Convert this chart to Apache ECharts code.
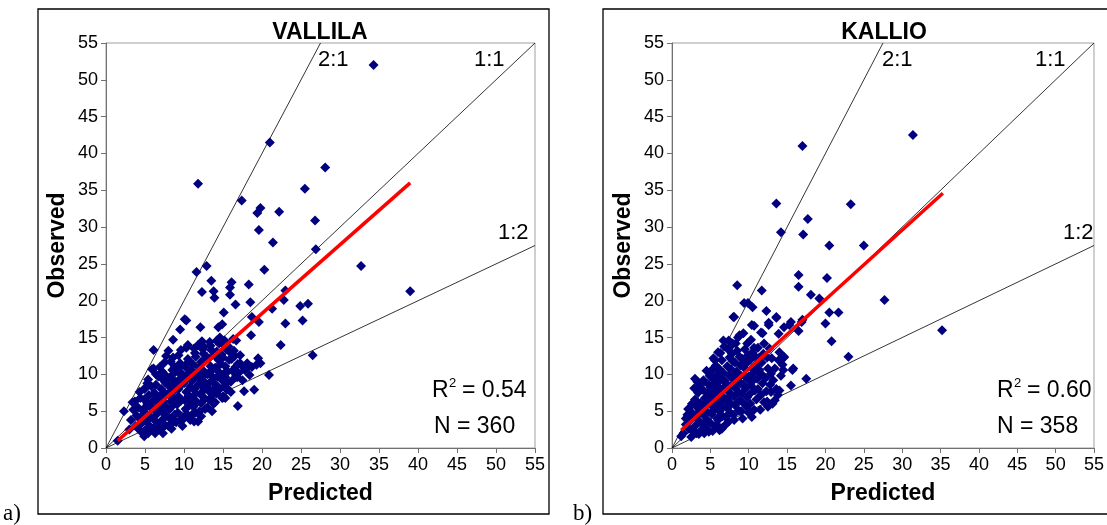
<!DOCTYPE html>
<html>
<head>
<meta charset="utf-8">
<title>Observed vs Predicted</title>
<script src="https://cdn.jsdelivr.net/npm/echarts/dist/echarts.min.js"></script>
<style>
  html, body { margin: 0; padding: 0; background: #fff; }
  #main { width: 1107px; height: 525px; }
</style>
</head>
<body>
<div id="main"></div>
<script>
// axis ticks
var axisMin = 0, axisMax = 55, axisStep = 5;

// reference lines (2:1, 1:1, 1:2)
var line21 = [[0, 0], [27.5, 55]];
var line11 = [[0, 0], [55, 55]];
var line12 = [[0, 0], [55, 27.5]];

// regression lines
var fitVallila = [[1.5, 1.0], [39.0, 36.0]];
var fitKallio = [[1.2, 2.4], [35.3, 34.6]];

// VALLILA: scattered points
var vallilaOuter = [
  [34.3, 52.0], [21.0, 41.5], [28.1, 38.1], [11.8, 35.9], [25.5, 35.2], [17.4, 33.6],
  [19.8, 32.6], [19.4, 31.9], [22.2, 32.1], [26.8, 30.9], [19.6, 29.6], [21.4, 27.9],
  [26.9, 27.0], [32.7, 24.7], [12.9, 24.7], [11.6, 23.9], [20.3, 24.2], [39.0, 21.3],
  [13.5, 22.7], [12.3, 21.2], [13.8, 21.3], [13.9, 20.4], [18.3, 22.2], [15.9, 21.8],
  [16.1, 22.5], [15.9, 20.8], [16.6, 19.5], [18.5, 19.8], [23.0, 21.4], [22.8, 20.1],
  [24.9, 19.3], [25.9, 19.6], [21.3, 18.9], [15.1, 18.4], [25.2, 17.3], [23.0, 16.9],
  [19.6, 17.1], [18.7, 17.8], [10.1, 17.5], [10.3, 17.3], [9.5, 16.1], [12.1, 16.4],
  [14.9, 16.8], [14.4, 16.4], [18.6, 15.3], [15.1, 14.0], [8.6, 14.7], [16.7, 14.6],
  [22.4, 14.0], [6.1, 13.3], [26.5, 12.6], [20.9, 9.9], [19.0, 7.9], [17.7, 7.7],
  [16.9, 5.7], [2.3, 5.0], [4.9, 1.6], [1.5, 1.0], [5.9, 10.7], [5.3, 8.8],
  [4.9, 8.0], [3.7, 6.3], [19.3, 11.3], [19.8, 11.5], [18.7, 11.0], [16.9, 11.4],
  [18.0, 11.3], [18.4, 9.9], [16.6, 9.6], [15.3, 9.6], [15.5, 7.9], [15.1, 6.9],
  [19.5, 12.2], [18.1, 11.5], [17.2, 11.5], [16.7, 9.8], [15.3, 6.8], [15.5, 8.1]
];

// VALLILA: dense cluster
var vallilaCluster = [
  [3.0, 2.5], [3.2, 3.8], [3.5, 5.2], [3.8, 3.0], [3.4, 6.2],
  [4.0, 2.8], [4.2, 4.1], [4.1, 5.5], [4.4, 6.8], [4.6, 3.4], [4.3, 7.6], [4.8, 5.0],
  [5.0, 2.4], [5.2, 3.6], [5.1, 4.7], [5.3, 6.0], [5.5, 7.2], [5.0, 8.1], [5.6, 3.0], [5.4, 9.3], [5.8, 5.4], [5.7, 4.2],
  [6.0, 2.6], [6.1, 3.9], [6.3, 5.1], [6.0, 6.4], [6.2, 7.5], [6.4, 8.6], [6.1, 10.8], [6.6, 3.2], [6.5, 4.6], [6.8, 6.0], [6.7, 9.7], [6.9, 7.0], [6.3, 2.0],
  [7.0, 2.5], [7.1, 3.7], [7.2, 4.9], [7.0, 5.8], [7.3, 6.9], [7.1, 8.0], [7.4, 9.2], [7.2, 10.4], [7.5, 11.6], [7.6, 3.1], [7.7, 4.3], [7.8, 5.5], [7.6, 7.4], [7.9, 8.6], [7.7, 12.5], [7.5, 10.0],
  [8.0, 3.0], [8.2, 4.0], [8.1, 5.2], [8.3, 6.3], [8.0, 7.3], [8.4, 8.4], [8.2, 9.5], [8.5, 10.6], [8.3, 11.7], [8.6, 12.3], [8.8, 4.5], [8.7, 6.8], [8.9, 9.0], [8.8, 11.0], [8.6, 3.5], [8.9, 7.9],
  [9.0, 3.5], [9.2, 4.8], [9.1, 5.9], [9.3, 7.0], [9.0, 8.2], [9.4, 9.3], [9.2, 10.4], [9.5, 11.5], [9.3, 12.6], [9.6, 6.4], [9.7, 8.7], [9.8, 10.0], [9.6, 13.3], [9.9, 4.2], [9.5, 3.8],
  [10.0, 4.0], [10.2, 5.3], [10.1, 6.5], [10.3, 7.6], [10.0, 8.8], [10.4, 9.9], [10.2, 11.0], [10.5, 12.1], [10.3, 13.6], [10.7, 5.8], [10.6, 7.1], [10.8, 8.3], [10.9, 10.5], [10.7, 11.8], [10.8, 3.8], [10.5, 14.0],
  [11.0, 4.5], [11.2, 5.6], [11.1, 6.8], [11.3, 7.9], [11.0, 9.1], [11.4, 10.2], [11.2, 11.3], [11.5, 12.4], [11.3, 13.5], [11.7, 6.2], [11.8, 8.6], [11.6, 9.7], [11.9, 11.0], [11.8, 14.0], [11.5, 4.8],
  [12.0, 5.0], [12.2, 6.1], [12.1, 7.3], [12.3, 8.4], [12.0, 9.5], [12.4, 10.6], [12.2, 11.7], [12.5, 12.8], [12.3, 14.5], [12.7, 6.7], [12.6, 9.0], [12.8, 10.1], [12.9, 12.2], [12.7, 5.3], [12.6, 13.7],
  [13.0, 5.5], [13.2, 6.6], [13.1, 7.8], [13.3, 8.9], [13.0, 10.0], [13.4, 11.1], [13.2, 12.2], [13.5, 13.3], [13.3, 14.4], [13.7, 7.2], [13.8, 9.5], [13.6, 10.6], [13.9, 12.6], [13.8, 6.0],
  [14.0, 6.2], [14.2, 7.4], [14.1, 8.6], [14.3, 9.7], [14.0, 10.9], [14.4, 12.0], [14.2, 13.1], [14.5, 14.2], [14.6, 8.0], [14.7, 11.4], [14.8, 12.7], [14.6, 15.0], [14.9, 6.8],
  [15.0, 7.0], [15.2, 8.4], [15.1, 9.8], [15.3, 11.1], [15.0, 12.3], [15.4, 13.4], [15.2, 14.6], [15.6, 10.4], [15.8, 12.0], [15.7, 13.8], [15.5, 8.9],
  [16.0, 9.0], [16.2, 10.5], [16.1, 12.1], [16.4, 13.2], [16.6, 11.0], [16.8, 9.6], [16.3, 14.8],
  [17.0, 10.2], [17.4, 11.2], [17.2, 12.6], [17.8, 10.6], [18.2, 11.0],
  [4.5, 2.2], [5.4, 2.0], [6.6, 5.4], [7.4, 6.3], [8.5, 5.7], [9.4, 6.6], [10.4, 4.6], [11.5, 7.4], [12.5, 7.8], [13.5, 9.8],
  [14.5, 10.3], [13.6, 5.0], [12.2, 4.3], [11.3, 3.6], [9.8, 3.0], [8.4, 2.6], [7.3, 2.0], [6.5, 6.9], [7.6, 8.9], [8.5, 9.9],
  [9.4, 10.9], [10.5, 11.6], [11.4, 12.9], [12.4, 13.4], [13.4, 13.9], [14.2, 14.6], [10.2, 9.3], [11.3, 9.6], [12.3, 10.1], [9.3, 8.0],
  [8.3, 7.7], [6.0, 5.5], [5.1, 5.6], [4.6, 4.3], [3.9, 4.4], [10.9, 6.2], [12.9, 8.3], [13.9, 8.1], [15.3, 10.3], [14.9, 9.2],
  [16.5, 12.5], [15.9, 13.0], [6.4, 10.0], [5.8, 8.4], [4.9, 6.6], [6.9, 11.0], [8.0, 13.2], [16.0, 7.6], [17.5, 9.2], [11.8, 3.6]
];

// KALLIO: scattered points
var kallioOuter = [
  [31.4, 42.5], [17.0, 41.0], [13.6, 33.2], [23.3, 33.1], [14.2, 29.3], [17.7, 31.1],
  [17.1, 29.0], [20.5, 27.5], [25.0, 27.5], [16.5, 23.5], [20.2, 23.1], [16.5, 21.9],
  [8.5, 22.1], [11.7, 21.4], [18.1, 20.8], [19.2, 20.3], [27.7, 20.1], [9.4, 19.7],
  [9.9, 19.7], [10.5, 19.1], [8.1, 17.8], [12.3, 18.6], [13.6, 17.7], [20.5, 18.4],
  [21.7, 18.4], [35.2, 16.0], [20.0, 16.9], [20.8, 14.5], [23.0, 12.4], [17.5, 9.4],
  [15.5, 8.5], [10.7, 16.6], [11.8, 15.6], [12.6, 16.7], [13.9, 15.5], [14.6, 16.4],
  [15.3, 16.7], [16.5, 15.9], [16.9, 17.1], [8.8, 15.3], [6.7, 14.6], [7.9, 14.2],
  [5.6, 11.9], [3.0, 9.4], [3.9, 8.9], [2.9, 8.1], [1.2, 1.6], [6.2, 2.4],
  [14.6, 12.3], [15.8, 10.8], [14.4, 11.3], [13.1, 6.0], [12.4, 6.3], [12.9, 7.6],
  [14.6, 12.4], [15.7, 10.6], [14.0, 13.0], [15.5, 17.1], [17.0, 17.4], [13.6, 17.8],
  [10.4, 16.7], [12.6, 17.0], [11.6, 15.7], [8.0, 17.8], [7.8, 14.0], [13.8, 7.2], [10.1, 4.9]
];

// KALLIO: dense cluster
var kallioCluster = [
  [1.5, 2.0], [1.8, 3.2], [2.0, 4.5], [2.2, 2.6], [2.4, 3.8], [2.1, 5.3], [2.6, 4.8], [2.8, 2.2],
  [3.0, 3.0], [3.1, 4.2], [3.3, 5.5], [3.0, 6.6], [3.4, 7.5], [3.2, 2.0], [3.6, 3.6], [3.5, 8.3], [3.8, 4.8], [3.7, 6.1], [3.9, 2.5],
  [4.0, 3.2], [4.2, 4.4], [4.1, 5.7], [4.3, 6.8], [4.0, 7.9], [4.4, 2.7], [4.6, 3.8], [4.5, 5.0], [4.7, 6.3], [4.6, 7.4], [4.8, 8.6], [4.9, 9.8], [4.5, 10.5], [4.8, 2.2],
  [5.0, 3.4], [5.2, 4.6], [5.1, 5.8], [5.3, 7.0], [5.0, 8.2], [5.4, 9.3], [5.2, 10.6], [5.6, 3.0], [5.5, 5.2], [5.7, 6.4], [5.8, 7.6], [5.6, 8.8], [5.9, 10.0], [5.7, 11.2], [5.9, 4.0],
  [6.0, 3.8], [6.2, 5.0], [6.1, 6.1], [6.3, 7.2], [6.0, 8.4], [6.4, 9.5], [6.2, 10.7], [6.5, 11.9], [6.3, 12.9], [6.6, 4.3], [6.7, 5.6], [6.8, 6.8], [6.6, 8.0], [6.9, 9.1], [6.7, 10.2], [6.8, 13.8], [6.5, 2.6],
  [7.0, 4.2], [7.2, 5.4], [7.1, 6.5], [7.3, 7.7], [7.0, 8.8], [7.4, 9.9], [7.2, 11.1], [7.5, 12.3], [7.3, 13.4], [7.6, 4.8], [7.7, 6.0], [7.8, 7.2], [7.6, 8.4], [7.9, 9.6], [7.7, 10.7], [7.8, 12.8], [7.4, 3.6],
  [8.0, 4.5], [8.2, 5.8], [8.1, 7.0], [8.3, 8.1], [8.0, 9.3], [8.4, 10.4], [8.2, 11.6], [8.5, 13.2], [8.3, 14.2], [8.7, 5.1], [8.8, 6.4], [8.6, 7.6], [8.9, 8.8], [8.7, 10.0], [8.9, 11.2], [8.6, 15.0],
  [9.0, 5.0], [9.2, 6.2], [9.1, 7.4], [9.3, 8.6], [9.0, 9.8], [9.4, 10.9], [9.2, 12.1], [9.5, 13.4], [9.7, 5.6], [9.8, 6.9], [9.6, 8.1], [9.9, 9.3], [9.7, 11.5], [9.8, 14.2],
  [10.0, 4.8], [10.2, 6.0], [10.1, 7.3], [10.3, 8.5], [10.0, 9.7], [10.4, 10.8], [10.2, 12.0], [10.5, 13.0], [10.7, 5.2], [10.8, 7.8], [10.6, 9.2], [10.9, 11.3], [10.7, 13.6],
  [11.0, 6.6], [11.2, 8.0], [11.1, 9.4], [11.4, 10.6], [11.3, 12.2], [11.6, 7.2], [11.8, 8.8], [11.7, 11.6], [11.9, 12.8],
  [12.0, 6.2], [12.3, 7.7], [12.2, 9.5], [12.5, 10.8], [12.4, 12.3], [12.8, 8.6], [12.9, 10.1], [12.7, 13.5],
  [13.2, 9.2], [13.4, 10.8], [13.6, 8.0], [13.9, 11.9], [14.2, 9.8], [14.5, 10.6],
  [2.5, 1.5], [3.5, 1.9], [4.2, 2.0], [5.3, 2.3], [6.0, 3.0], [7.0, 3.2], [8.1, 3.8], [9.2, 4.0], [10.4, 4.2], [11.5, 5.2],
  [12.5, 5.6], [13.4, 6.5], [14.0, 7.8], [13.0, 12.2], [12.0, 14.2], [11.2, 13.6], [10.3, 14.7], [9.3, 15.6], [7.4, 14.6], [6.0, 13.0],
  [5.4, 12.2], [4.1, 9.2], [3.3, 9.0], [2.6, 6.0], [1.8, 4.0], [5.9, 5.3], [6.4, 6.6], [7.5, 7.0], [8.4, 9.0], [9.5, 9.8],
  [10.6, 10.2], [11.6, 10.1], [7.9, 11.8], [8.8, 12.4], [9.9, 12.6], [10.8, 12.5], [6.2, 9.2], [5.3, 7.8], [4.4, 6.0], [3.6, 5.0]
];

var panelTitles = ['VALLILA', 'KALLIO'];
var panelR2 = ['0.54', '0.60'];
var panelN = ['360', '358'];

var chart = echarts.init(document.getElementById('main'));
var FONT = '"Liberation Sans", Arial, sans-serif';

function makeX(idx) {
  return {
    gridIndex: idx, type: 'value', min: axisMin, max: axisMax, interval: axisStep,
    name: 'Predicted', nameLocation: 'middle', nameGap: 34,
    nameTextStyle: { color: '#000', fontSize: 23, fontWeight: 'bold', fontFamily: FONT },
    axisLine: { show: true, onZero: false, lineStyle: { color: '#707070', width: 1 } },
    axisTick: { show: true, length: 5, lineStyle: { color: '#707070' } },
    axisLabel: { color: '#000', fontSize: 18, fontFamily: FONT, margin: 8 },
    splitLine: { show: false }
  };
}
function makeY(idx) {
  return {
    gridIndex: idx, type: 'value', min: axisMin, max: axisMax, interval: axisStep,
    name: 'Observed', nameLocation: 'middle', nameGap: 37,
    nameTextStyle: { color: '#000', fontSize: 23, fontWeight: 'bold', fontFamily: FONT },
    axisLine: { show: true, onZero: false, lineStyle: { color: '#707070', width: 1 } },
    axisTick: { show: true, length: 5, lineStyle: { color: '#707070' } },
    axisLabel: { color: '#000', fontSize: 18, fontFamily: FONT, margin: 8 },
    splitLine: { show: false }
  };
}
function refLine(idx, data) {
  return {
    type: 'line', xAxisIndex: idx, yAxisIndex: idx, data: data, symbol: 'none',
    lineStyle: { color: '#000', width: 0.8 }, silent: true, z: 1
  };
}
function pts(idx, data) {
  return {
    type: 'scatter', xAxisIndex: idx, yAxisIndex: idx, data: data,
    symbol: 'diamond', symbolSize: 10, itemStyle: { color: '#000080', opacity: 1 }, z: 2
  };
}
function fit(idx, data) {
  return {
    type: 'line', xAxisIndex: idx, yAxisIndex: idx, data: data, symbol: 'none',
    lineStyle: { color: '#ff0000', width: 3.5 }, z: 3
  };
}
function txt(x, y, s, size, extra) {
  var st = { text: s, x: 0, y: 0, fill: '#000', fontSize: size, fontFamily: FONT, verticalAlign: 'middle', align: 'left' };
  for (var k in extra) st[k] = extra[k];
  return { type: 'text', x: x, y: y, style: st, z: 10 };
}

var graphics = [
  { type: 'rect', shape: { x: 38, y: 9, width: 511, height: 505 }, style: { fill: null, stroke: '#000', lineWidth: 1.3 } },
  { type: 'rect', shape: { x: 603, y: 9, width: 511, height: 505 }, style: { fill: null, stroke: '#000', lineWidth: 1.3 } },
  txt(3, 514, 'a)', 23, { fontFamily: '"Liberation Serif", serif' }),
  txt(573, 514, 'b)', 23, { fontFamily: '"Liberation Serif", serif' }),
  txt(320, 33, panelTitles[0], 23, { fontWeight: 'bold', align: 'center' }),
  txt(884, 33, panelTitles[1], 23, { fontWeight: 'bold', align: 'center' }),
  txt(318, 60, '2:1', 22), txt(474, 60, '1:1', 22), txt(498, 233, '1:2', 22),
  txt(882, 60, '2:1', 22), txt(1035, 60, '1:1', 22), txt(1063, 233, '1:2', 22),
  txt(432, 391, 'R', 23), txt(449, 383, '2', 13), txt(462, 391, '= ' + panelR2[0], 23),
  txt(434, 427, 'N = ' + panelN[0], 23),
  txt(997, 391, 'R', 23), txt(1014, 383, '2', 13), txt(1027, 391, '= ' + panelR2[1], 23),
  txt(997, 427, 'N = ' + panelN[1], 23)
];

var option = {
  backgroundColor: '#fff',
  animation: false,
  grid: [
    { left: 106, right: 572, top: 43, bottom: 77, show: true, borderColor: '#a0a0a0', borderWidth: 1 },
    { left: 672, right: 10, top: 43, bottom: 77, show: true, borderColor: '#a0a0a0', borderWidth: 1 }
  ],
  xAxis: [makeX(0), makeX(1)],
  yAxis: [makeY(0), makeY(1)],
  series: [
    refLine(0, line21), refLine(0, line11), refLine(0, line12),
    pts(0, vallilaCluster), pts(0, vallilaOuter), fit(0, fitVallila),
    refLine(1, line21), refLine(1, line11), refLine(1, line12),
    pts(1, kallioCluster), pts(1, kallioOuter), fit(1, fitKallio)
  ],
  graphic: graphics
};
chart.setOption(option);
</script>
</body>
</html>
